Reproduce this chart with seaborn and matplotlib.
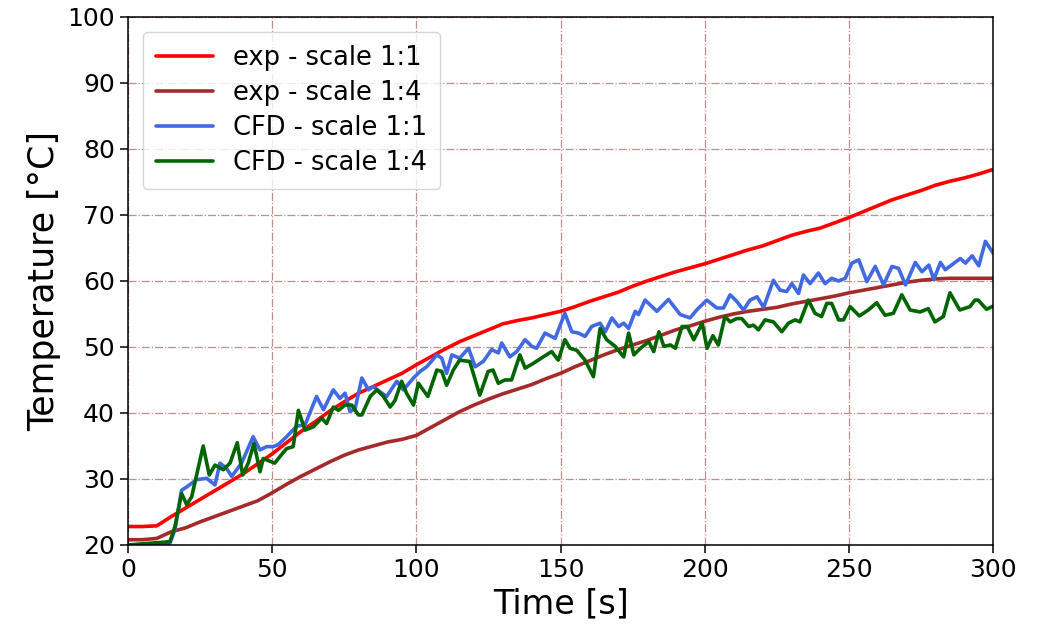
import numpy as np
import pandas as pd
import matplotlib
matplotlib.use("Agg")
import matplotlib.pyplot as plt
import seaborn as sns

# curvas experimentais (amostradas a cada 5 s)
t_exp = list(range(0, 301, 5))
exp_11 = [22.8, 22.8, 22.9, 24.3, 25.6, 26.9, 28.2, 29.5, 30.8, 32.3,
          33.8, 35.5, 37.2, 38.7, 40.3, 41.7, 43.0, 44.0, 45.0, 46.0,
          47.3, 48.5, 49.7, 50.8, 51.7, 52.6, 53.5, 54.0, 54.4, 54.9,
          55.4, 56.1, 56.9, 57.6, 58.3, 59.2, 60.0, 60.7, 61.4, 62.0,
          62.6, 63.3, 64.0, 64.7, 65.3, 66.1, 66.9, 67.5, 68.0, 68.8,
          69.6, 70.5, 71.4, 72.3, 73.0, 73.7, 74.5, 75.1, 75.6, 76.2,
          76.9]
exp_14 = [20.8, 20.8, 21.0, 22.0, 22.6, 23.5, 24.3, 25.1, 25.9, 26.7,
          27.9, 29.2, 30.4, 31.5, 32.6, 33.6, 34.4, 35.0, 35.6, 36.0,
          36.6, 37.8, 39.0, 40.2, 41.2, 42.1, 42.9, 43.6, 44.3, 45.2,
          46.0, 47.0, 47.9, 48.8, 49.6, 50.3, 51.0, 51.8, 52.6, 53.2,
          53.9, 54.5, 55.0, 55.4, 55.7, 56.0, 56.5, 56.9, 57.3, 57.7,
          58.2, 58.6, 59.0, 59.4, 59.8, 60.1, 60.3, 60.4, 60.4, 60.4,
          60.4]

# CFD escala 1:1
t_cfd11 = [0, 14.5, 16.3, 18.6, 20.4, 23.8, 27.3, 30.2, 31.9, 34.2, 36.0, 39.4,
           43.4, 45.8, 48.1, 50.4, 52.1, 55.0, 58.5, 61.4, 65.4, 67.8, 71.2,
           73.5, 75.3, 77.0, 78.8, 81.1, 83.4, 85.1, 87.4, 89.7, 93.2, 95.5,
           99.0, 101.3, 103.6, 107.1, 108.8, 110.5, 112.3, 115.0, 118.1, 120.4,
           123.2, 126.1, 128.4, 129.6, 132.4, 134.8, 137.7, 140.0, 141.7, 144.6,
           148.1, 151.5, 153.9, 156.2, 158.5, 160.8, 163.7, 165.5, 167.8, 170.1,
           171.9, 173.6, 175.9, 177.0, 179.3, 183.4, 187.4, 191.5, 194.9, 197.2,
           200.7, 204.2, 206.5, 208.8, 211.1, 213.4, 215.7, 218.1, 220.4, 223.8,
           226.1, 228.4, 230.2, 232.5, 234.2, 236.5, 239.4, 241.7, 244.0, 246.4,
           248.7, 251.0, 253.4, 256.2, 259.1, 262.0, 264.9, 267.2, 269.6, 273.0,
           275.3, 277.7, 279.4, 281.7, 283.4, 288.6, 290.4, 292.7, 295.0, 297.3,
           300.0]
cfd_11 = [20.0, 20.2, 22.3, 28.3, 28.8, 29.9, 30.1, 29.1, 32.4, 31.6, 30.4, 32.4,
          36.4, 34.4, 34.9, 34.9, 35.2, 36.4, 38.0, 38.2, 42.5, 40.5, 43.5,
          42.2, 43.0, 40.2, 40.7, 45.3, 43.5, 44.0, 43.2, 42.5, 44.8, 43.5,
          45.3, 46.3, 47.0, 48.8, 48.3, 46.0, 48.8, 48.3, 49.8, 47.0,
          47.8, 49.6, 49.1, 50.6, 48.5, 49.3, 51.1, 50.1, 49.8, 52.1,
          51.3, 55.1, 52.3, 52.1, 51.6, 53.1, 53.6, 52.3, 54.4, 53.1,
          53.6, 52.8, 55.4, 54.9, 57.1, 55.4, 57.2, 54.9, 54.4, 55.6,
          57.1, 55.9, 55.9, 57.9, 56.9, 55.6, 57.1, 57.6, 56.0, 60.1,
          58.6, 58.4, 59.6, 58.1, 60.9, 59.6, 61.2, 59.6, 60.4, 60.0,
          60.4, 62.7, 63.2, 59.9, 62.2, 59.4, 62.2, 61.9, 59.4, 62.8,
          61.4, 62.4, 60.2, 62.8, 61.7, 63.4, 62.7, 63.8, 62.3, 66.0,
          64.2]

# CFD escala 1:4
t_cfd14 = [0, 14.6, 16.3, 18.6, 20.4, 22.1, 26.1, 28.2, 30.2, 33.1, 35.4, 37.9,
           39.8, 41.7, 43.7, 45.8, 46.9, 50.9, 52.7, 55.0, 57.3, 59.1, 61.4,
           64.3, 67.2, 68.9, 71.2, 73.0, 75.3, 77.6, 79.9, 81.1, 84.0, 86.3,
           88.6, 90.9, 92.6, 94.9, 96.6, 99.0, 100.7, 104.0, 107.1, 108.8,
           110.5, 112.8, 115.0, 118.5, 122.0, 124.9, 126.6, 128.4, 130.7, 133.0,
           135.9, 137.7, 140.5, 144.0, 146.9, 149.2, 151.5, 153.3, 155.6, 158.5,
           161.4, 163.7, 166.0, 168.9, 171.9, 173.6, 175.4, 177.7, 180.6, 182.3,
           184.1, 185.8, 188.1, 189.8, 192.1, 193.9, 196.2, 199.1, 200.8, 202.8,
           204.7, 207.0, 208.8, 211.1, 212.8, 215.2, 216.9, 218.6, 220.9, 223.8,
           226.7, 229.0, 231.3, 233.0, 235.9, 238.2, 240.5, 242.3, 244.0, 246.4,
           248.1, 250.4, 253.6, 256.7, 259.6, 262.5, 265.4, 268.3, 271.2, 274.6,
           277.5, 279.8, 282.7, 285.0, 288.4, 291.9, 293.7, 294.8, 297.7, 300.0]
cfd_14 = [20.0, 20.5, 22.8, 27.8, 26.1, 27.3, 35.0, 30.6, 32.1, 31.4, 32.4, 35.5,
          30.6, 32.4, 35.4, 31.1, 33.1, 32.4, 33.4, 34.6, 34.9, 40.4, 37.4,
          37.9, 39.2, 38.4, 40.9, 40.4, 41.2, 41.2, 39.7, 39.7, 42.5, 43.5,
          42.5, 40.9, 41.9, 44.8, 43.0, 41.2, 44.5, 42.5, 46.5, 46.3,
          44.2, 46.5, 48.0, 47.8, 42.7, 46.3, 46.5, 44.5, 45.0, 45.0,
          48.8, 46.8, 47.5, 48.5, 49.3, 48.0, 51.1, 49.8, 49.5, 48.0,
          45.5, 52.8, 51.1, 50.1, 48.5, 52.1, 48.8, 49.8, 50.8, 49.3,
          52.3, 50.1, 50.3, 49.8, 53.1, 53.1, 51.1, 53.6, 49.8, 51.7,
          50.3, 54.6, 53.8, 54.3, 54.3, 53.1, 53.3, 52.6, 54.1, 53.8,
          52.3, 53.6, 54.1, 53.8, 57.1, 55.1, 54.6, 56.6, 56.6, 54.1,
          54.1, 56.1, 54.7, 55.6, 56.7, 54.8, 55.1, 57.9, 55.6, 55.3,
          55.8, 53.8, 54.6, 58.2, 55.6, 56.1, 57.1, 57.1, 55.7, 56.2]

labels = ['exp - scale 1:1', 'exp - scale 1:4', 'CFD - scale 1:1', 'CFD - scale 1:4']
cores = ['red', 'brown', 'royalblue', 'darkgreen']

series = [(t_exp, exp_11), (t_exp, exp_14), (t_cfd11, cfd_11), (t_cfd14, cfd_14)]

sns.set_style("white")
plt.rcParams['font.family'] = ['DejaVu Sans']
plt.rcParams['text.color'] = 'black'
plt.rcParams['axes.labelcolor'] = 'black'
plt.rcParams['xtick.color'] = 'black'
plt.rcParams['ytick.color'] = 'black'

fig, ax = plt.subplots(figsize=(10.4, 6.25), dpi=100)
fig.subplots_adjust(left=0.123, right=0.955, top=0.973, bottom=0.128)

for (tt, yy), lab, cor in zip(series, labels, cores):
    df = pd.DataFrame({'t': tt, 'T': yy})
    sns.lineplot(data=df, x='t', y='T', ax=ax, color=cor, linewidth=2.6,
                 label=lab, estimator=None, sort=False)

ax.set_xlim(0, 300)
ax.set_ylim(20, 100)
ax.set_xticks(range(0, 301, 50))
ax.set_yticks(range(20, 101, 10))
ax.grid(True, linestyle='-.', color='#a86a6a', linewidth=0.9, alpha=0.75)
for s in ax.spines.values():
    s.set_color('black')
    s.set_linewidth(1.1)
ax.tick_params(axis='both', which='major', labelsize=18, direction='out',
               length=6, width=1.1, color='black', bottom=True, left=True)
ax.set_xlabel('Time [s]', fontsize=24)
ax.set_ylabel('Temperature [°C]', fontsize=25)

leg = ax.legend(loc='upper left', fontsize=18.5, frameon=True, handlelength=2.2,
                borderpad=0.5, labelspacing=0.35, handletextpad=0.8,
                borderaxespad=0.6)
leg.get_frame().set_edgecolor('#cccccc')

plt.savefig('out.png', dpi=100)
plt.close()
